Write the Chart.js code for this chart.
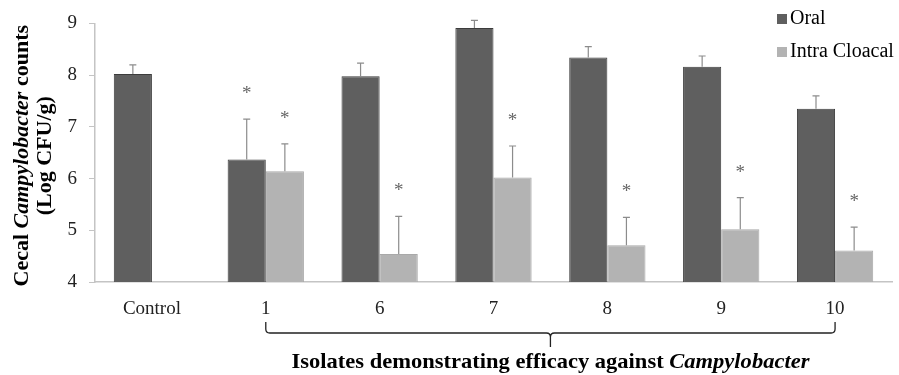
<!DOCTYPE html>
<html>
<head>
<meta charset="utf-8">
<script src="https://cdn.jsdelivr.net/npm/chart.js@4.4.0/dist/chart.umd.min.js"></script>
<style>
  html, body { margin: 0; padding: 0; background: #fff; }
  #wrap { width: 899px; height: 375px; }
</style>
</head>
<body>
<div id="wrap"><canvas id="myChart" width="899" height="375"></canvas></div>
<script>
// chart values
const categories = ['Control', '1', '6', '7', '8', '9', '10'];
const oral = [8.02, 6.37, 7.98, 8.91, 8.34, 8.16, 7.35];
const oralErr = [0.18, 0.78, 0.25, 0.15, 0.21, 0.21, 0.25];
const cloacal = [null, 6.14, 4.54, 6.02, 4.71, 5.02, 4.61];
const cloacalErr = [null, 0.53, 0.73, 0.61, 0.54, 0.61, 0.45];
const oralSig = [false, true, false, false, false, false, false];
const cloacalSig = [false, true, true, true, true, true, true];
const yTicks = [4, 5, 6, 7, 8, 9];

const serif = '"Liberation Serif", "Times New Roman", serif';
const errs = [oralErr, cloacalErr];
const sigs = [oralSig, cloacalSig];

// error bars + asterisks
const errorBars = {
    id: 'errorBars',
    afterDatasetsDraw(chart) {
        const ctx = chart.ctx;
        const y = chart.scales.y;
        ctx.save();
        chart.data.datasets.forEach((ds, i) => {
            const meta = chart.getDatasetMeta(i);
            meta.data.forEach((bar, j) => {
                if (ds.data[j] == null) return;
                const top = y.getPixelForValue(ds.data[j] + errs[i][j]);
                ctx.strokeStyle = '#8c8c8c';
                ctx.lineWidth = 1.2;
                ctx.beginPath();
                ctx.moveTo(bar.x, bar.y);
                ctx.lineTo(bar.x, top);
                ctx.moveTo(bar.x - 3.5, top);
                ctx.lineTo(bar.x + 3.5, top);
                ctx.stroke();
                if (sigs[i][j]) {
                    ctx.fillStyle = '#666';
                    ctx.font = '19px ' + serif;
                    ctx.textAlign = 'center';
                    ctx.textBaseline = 'middle';
                    ctx.fillText('*', bar.x, top - 25);
                }
            });
        });
        ctx.restore();
    }
};

// axis title, brace, legend
const extras = {
    id: 'extras',
    afterDraw(chart) {
        const ctx = chart.ctx;
        const x = chart.scales.x;
        const area = chart.chartArea;
        ctx.save();

        // y title (two lines, rotated)
        const cy = (area.top + area.bottom) / 2 + 3;
        ctx.fillStyle = '#000';
        ctx.textBaseline = 'middle';
        const parts = [['Cecal ', 'bold'], ['Campylobacter', 'italic bold'], [' counts', 'bold']];
        const fs = 22;
        let total = 0;
        parts.forEach(p => { ctx.font = p[1] + ' ' + fs + 'px ' + serif; total += ctx.measureText(p[0]).width; });
        ctx.translate(22, cy);
        ctx.rotate(-Math.PI / 2);
        let px = -total / 2;
        ctx.textAlign = 'left';
        parts.forEach(p => {
            ctx.font = p[1] + ' ' + fs + 'px ' + serif;
            ctx.fillText(p[0], px, 0);
            px += ctx.measureText(p[0]).width;
        });
        ctx.font = 'bold ' + fs + 'px ' + serif;
        ctx.textAlign = 'center';
        ctx.fillText('(Log CFU/g)', 0, 23);
        ctx.setTransform(1, 0, 0, 1, 0, 0);

        // brace under isolates
        const x1 = x.getPixelForValue(1);
        const x2 = x.getPixelForValue(categories.length - 1);
        const xm = (x1 + x2) / 2;
        const by0 = 322, by1 = 333, r = 4;
        ctx.strokeStyle = '#222';
        ctx.lineWidth = 1.3;
        ctx.beginPath();
        ctx.moveTo(x1, by0);
        ctx.lineTo(x1, by1 - r);
        ctx.quadraticCurveTo(x1, by1, x1 + r, by1);
        ctx.lineTo(xm - r, by1);
        ctx.quadraticCurveTo(xm, by1, xm, by1 + r);
        ctx.lineTo(xm, by1 + 14);
        ctx.moveTo(xm, by1 + r);
        ctx.quadraticCurveTo(xm, by1, xm + r, by1);
        ctx.lineTo(x2 - r, by1);
        ctx.quadraticCurveTo(x2, by1, x2, by1 - r);
        ctx.lineTo(x2, by0);
        ctx.stroke();

        // bottom label
        const bparts = [['Isolates demonstrating efficacy against ', 'bold'], ['Campylobacter', 'italic bold']];
        const bfs = 21;
        let bw = 0;
        bparts.forEach(p => { ctx.font = p[1] + ' ' + bfs + 'px ' + serif; bw += ctx.measureText(p[0]).width; });
        const sx = 518 / bw;
        ctx.translate(xm, 363);
        ctx.scale(sx, 1);
        let bx = -bw / 2;
        ctx.textAlign = 'left';
        ctx.textBaseline = 'middle';
        bparts.forEach(p => {
            ctx.font = p[1] + ' ' + bfs + 'px ' + serif;
            ctx.fillText(p[0], bx, 0);
            bx += ctx.measureText(p[0]).width;
        });
        ctx.setTransform(1, 0, 0, 1, 0, 0);

        // legend
        ctx.font = '20px ' + serif;
        ctx.textAlign = 'left';
        ctx.textBaseline = 'middle';
        chart.data.datasets.forEach((ds, i) => {
            const ly = 19 + i * 33;
            ctx.fillStyle = ds.backgroundColor;
            ctx.fillRect(777, ly - 5, 10, 10);
            ctx.fillStyle = '#000';
            ctx.fillText(ds.label, 790, ly);
        });
        ctx.restore();
    }
};

const ctx = document.getElementById('myChart');

new Chart(ctx, {
    type: 'bar',
    data: {
        labels: categories,
        datasets: [{
                label: 'Oral',
                data: oral,
                backgroundColor: '#5f5f5f',
                borderColor: '#3c3c3c',
                borderWidth: 1
            }, {
                label: 'Intra Cloacal',
                data: cloacal,
                backgroundColor: '#b3b3b3',
                borderColor: '#a9a9a9',
                borderWidth: 1
            }]
    },
    plugins: [errorBars, extras],
    options: {
        responsive: false,
        animation: false,
        layout: { padding: { top: 22, right: 7, left: 0, bottom: 0 } },
        datasets: { bar: { categoryPercentage: 0.67, barPercentage: 1 } },
        plugins: {
            legend: { display: false },
            tooltip: { enabled: false }
        },
        scales: {
            x: {
                grid: { display: false },
                border: { display: true, color: '#c4c4c4', width: 1.5 },
                ticks: { color: '#222', padding: 8, font: { family: serif, size: 19 } },
                afterFit(scale) { scale.height = 93; }
            },
            y: {
                min: 4,
                max: 9,
                afterBuildTicks(scale) { scale.ticks = yTicks.map(v => ({ value: v })); },
                grid: { drawOnChartArea: false, tickLength: 6, color: '#c4c4c4' },
                border: { display: true, color: '#c4c4c4', width: 1.5 },
                ticks: { color: '#222', padding: 12, font: { family: serif, size: 19 } },
                afterFit(scale) { scale.width = 95; }
            }
        }
    }
});
</script>
</body>
</html>
